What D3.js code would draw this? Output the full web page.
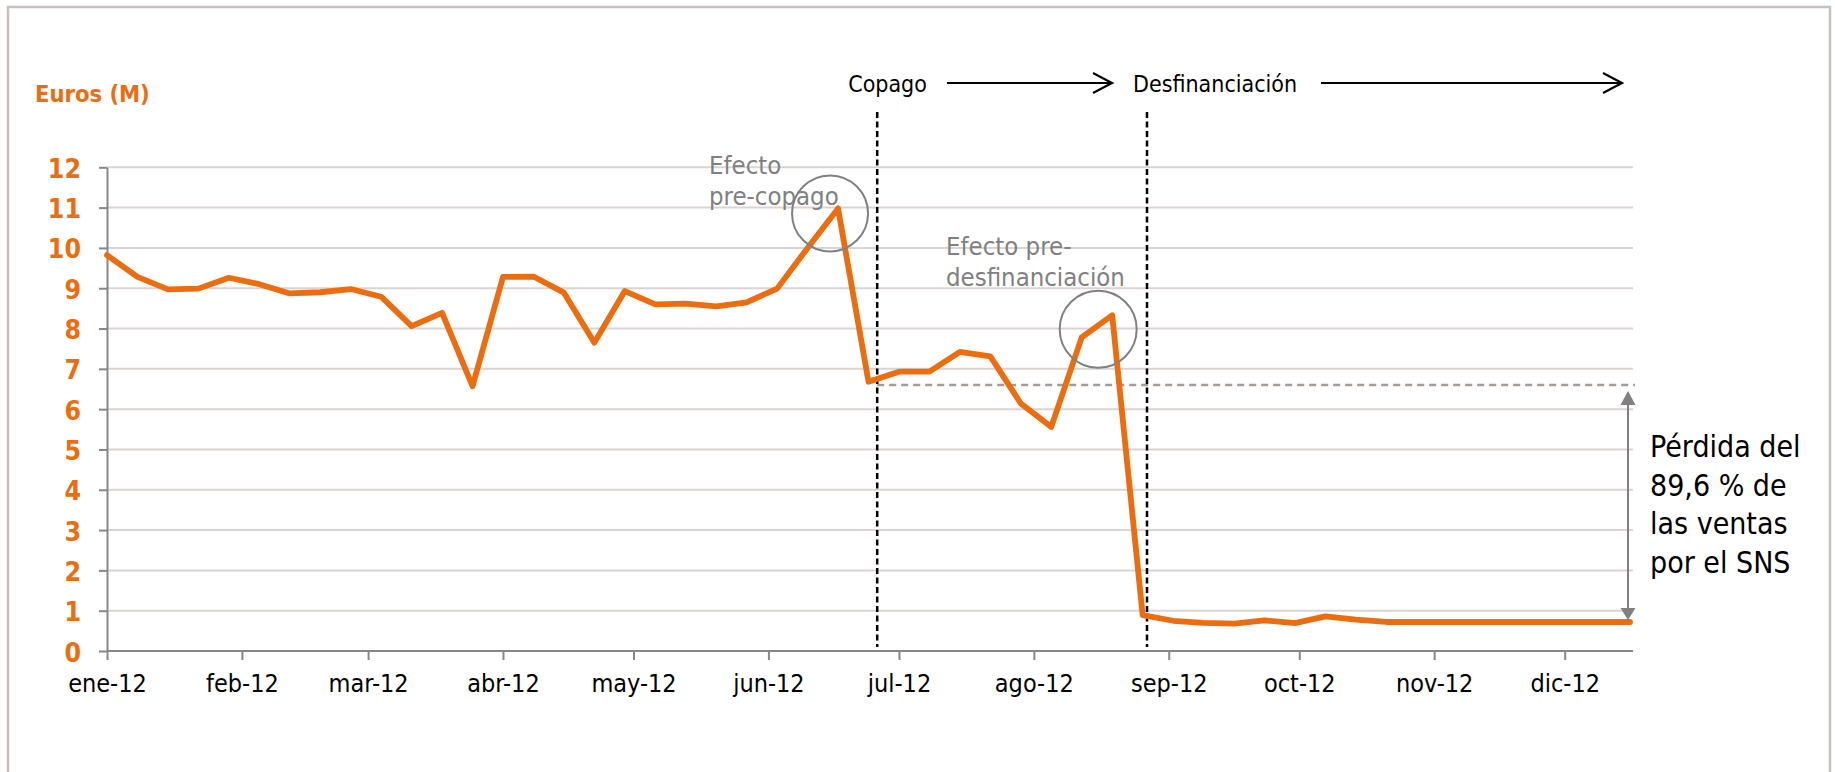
<!DOCTYPE html>
<html>
<head>
<meta charset="utf-8">
<script src="https://cdn.jsdelivr.net/npm/d3@7"></script>
<style>
  body { margin: 0; background: #fff; }
  text { font-family: "DejaVu Sans Condensed", "DejaVu Sans", sans-serif; }
</style>
</head>
<body>
<div id="chart"></div>
<script>
// ventas semanales (M euros), una por semana desde el 1 de enero
var startDate = "2012-01-01";
var ventas = [9.82, 9.28, 8.97, 8.99, 9.26, 9.10, 8.87, 8.90, 8.98, 8.79,
  8.06, 8.39, 6.57, 9.28, 9.29, 8.89, 7.65, 8.93, 8.60, 8.62,
  8.55, 8.65, 8.99, 10.0, 10.98, 6.68, 6.93, 6.93, 7.42, 7.31,
  6.14, 5.56, 7.78, 8.33, 0.89, 0.75, 0.70, 0.68, 0.76, 0.69,
  0.86, 0.78, 0.72, 0.72, 0.72, 0.72, 0.72, 0.72, 0.72, 0.72, 0.72];
var monthLabels = ["ene", "feb", "mar", "abr", "may", "jun", "jul", "ago", "sep", "oct", "nov", "dic"];
var yTicks = [0, 1, 2, 3, 4, 5, 6, 7, 8, 9, 10, 11, 12];
var eventDates = ["2012-06-26", "2012-08-27"];
var eventLabels = ["Copago", "Desfinanciación"];
var nivelCopago = 6.6;   // nivel tras el copago (línea discontinua)
var perdidaLines = ["Pérdida del", "89,6 % de", "las ventas", "por el SNS"];

var orange = "#ec6d0f";
var W = 1835, H = 772;
var parse = d3.timeParse("%Y-%m-%d");
var start = parse(startDate);
var data = ventas.map(function(v, i) {
  return { date: d3.timeDay.offset(start, 7 * i), value: v };
});

var x = d3.scaleTime()
  .domain([start, data[data.length - 1].date])
  .range([107, 1630]);
var y = d3.scaleLinear().domain([0, 12]).range([651, 167.3]);

var svg = d3.select("#chart").append("svg")
  .attr("width", W)
  .attr("height", H);

// marco
svg.append("rect")
  .attr("x", 8).attr("y", 7)
  .attr("width", 1822).attr("height", 820)
  .attr("fill", "none")
  .attr("stroke", "#c8c0bc")
  .attr("stroke-width", 2.5);

// lineas de cuadricula
svg.append("g").selectAll("line")
  .data(yTicks.filter(function(d) { return d > 0; }))
  .enter().append("line")
  .attr("x1", 107).attr("x2", 1633)
  .attr("y1", function(d) { return y(d); })
  .attr("y2", function(d) { return y(d); })
  .attr("stroke", "#d9d4d1")
  .attr("stroke-width", 2);

// eje y
var yAxis = svg.append("g")
  .attr("transform", "translate(107,0)")
  .call(d3.axisLeft(y).tickValues(yTicks).tickSize(8).tickSizeOuter(0).tickPadding(18));
yAxis.select(".domain").attr("stroke", "#878787").attr("stroke-width", 2);
yAxis.selectAll(".tick line").attr("stroke", "#878787").attr("stroke-width", 2);
yAxis.selectAll(".tick text")
  .attr("fill", orange)
  .attr("font-size", 26.5)
  .attr("font-weight", "bold")
  .attr("dy", "0.38em")
  .style("font-family", '"DejaVu Sans Condensed", "DejaVu Sans", sans-serif');

// eje x
var xAxis = svg.append("g")
  .attr("transform", "translate(0,651)")
  .call(d3.axisBottom(x)
    .ticks(d3.timeMonth.every(1))
    .tickFormat(function(d) { return monthLabels[d.getMonth()] + "-12"; })
    .tickSize(9).tickSizeOuter(0).tickPadding(14));
xAxis.select(".domain").attr("stroke", "#878787").attr("stroke-width", 2)
  .attr("d", "M107,0H1633");
xAxis.selectAll(".tick line").attr("stroke", "#878787").attr("stroke-width", 2);
xAxis.selectAll(".tick text")
  .attr("fill", "#000")
  .attr("font-size", 25)
  .attr("dy", "0.71em")
  .style("font-family", '"DejaVu Sans Condensed", "DejaVu Sans", sans-serif');

// titulo eje
svg.append("text")
  .attr("x", 35).attr("y", 102)
  .attr("fill", orange)
  .attr("font-size", 23.5)
  .attr("font-weight", "bold")
  .text("Euros (M)");

// linea horizontal discontinua (nivel tras copago)
var copagoX = x(parse(eventDates[0]));
svg.append("line")
  .attr("x1", copagoX).attr("x2", 1635)
  .attr("y1", y(nivelCopago)).attr("y2", y(nivelCopago))
  .attr("stroke", "#a39b97")
  .attr("stroke-width", 2.5)
  .attr("stroke-dasharray", "7,5");

// lineas verticales de eventos
svg.append("g").selectAll("line")
  .data(eventDates)
  .enter().append("line")
  .attr("x1", function(d) { return x(parse(d)); })
  .attr("x2", function(d) { return x(parse(d)); })
  .attr("y1", 112).attr("y2", 647)
  .attr("stroke", "#000")
  .attr("stroke-width", 2.5)
  .attr("stroke-dasharray", "6,3.5");

// etiquetas superiores y flechas
svg.append("text").attr("x", copagoX - 29).attr("y", 92)
  .attr("font-size", 23).attr("fill", "#000").text(eventLabels[0]);
var desfX = x(parse(eventDates[1]));
svg.append("text").attr("x", desfX - 14).attr("y", 92)
  .attr("font-size", 23).attr("fill", "#000").text(eventLabels[1]);

function arrow(x1, x2, yy) {
  svg.append("line")
    .attr("x1", x1).attr("x2", x2 - 1)
    .attr("y1", yy).attr("y2", yy)
    .attr("stroke", "#000").attr("stroke-width", 2.2);
  svg.append("path")
    .attr("d", "M" + (x2 - 19) + "," + (yy - 10) + "L" + x2 + "," + yy + "L" + (x2 - 19) + "," + (yy + 10))
    .attr("fill", "none")
    .attr("stroke", "#000")
    .attr("stroke-width", 2.2);
}
arrow(947, 1112, 83);
arrow(1321, 1622, 83);

// serie
var line = d3.line()
  .x(function(d) { return x(d.date); })
  .y(function(d) { return y(d.value); });

svg.append("path")
  .datum(data)
  .attr("d", line)
  .attr("fill", "none")
  .attr("stroke", orange)
  .attr("stroke-width", 5.8)
  .attr("stroke-linejoin", "round")
  .attr("stroke-linecap", "round");

// circulos de "efecto"
var pico1 = data[24], pico2 = data[33];
svg.append("circle")
  .attr("cx", x(pico1.date) - 8).attr("cy", y(pico1.value) + 5)
  .attr("r", 38)
  .attr("fill", "none").attr("stroke", "#808080").attr("stroke-width", 2);
svg.append("circle")
  .attr("cx", x(pico2.date) - 14).attr("cy", y(pico2.value) + 14)
  .attr("r", 38.5)
  .attr("fill", "none").attr("stroke", "#808080").attr("stroke-width", 2);

var efecto1 = svg.append("text").attr("x", 709).attr("font-size", 25.5).attr("fill", "#808080");
efecto1.append("tspan").attr("x", 709).attr("y", 174).text("Efecto");
efecto1.append("tspan").attr("x", 709).attr("y", 205).text("pre-copago");

var efecto2 = svg.append("text").attr("x", 946).attr("font-size", 25.5).attr("fill", "#808080");
efecto2.append("tspan").attr("x", 946).attr("y", 255).text("Efecto pre-");
efecto2.append("tspan").attr("x", 946).attr("y", 286).text("desfinanciación");

// flecha doble de perdida
var lastPt = data[data.length - 1];
var ax = x(lastPt.date) - 2;
var yTop = y(nivelCopago) + 6, yBot = y(lastPt.value) - 2;
svg.append("line")
  .attr("x1", ax).attr("x2", ax)
  .attr("y1", yTop + 10).attr("y2", yBot - 8)
  .attr("stroke", "#808080").attr("stroke-width", 2);
svg.append("path")
  .attr("d", "M" + ax + "," + yTop + "L" + (ax - 7.5) + "," + (yTop + 14) + "L" + (ax + 7.5) + "," + (yTop + 14) + "Z")
  .attr("fill", "#808080");
svg.append("path")
  .attr("d", "M" + ax + "," + yBot + "L" + (ax - 7.5) + "," + (yBot - 12) + "L" + (ax + 7.5) + "," + (yBot - 12) + "Z")
  .attr("fill", "#808080");

var perdida = svg.append("text").attr("font-size", 30).attr("fill", "#000");
perdida.selectAll("tspan")
  .data(perdidaLines)
  .enter().append("tspan")
  .attr("x", 1650)
  .attr("y", function(d, i) { return 457 + i * 38.7; })
  .text(function(d) { return d; });
</script>
</body>
</html>
